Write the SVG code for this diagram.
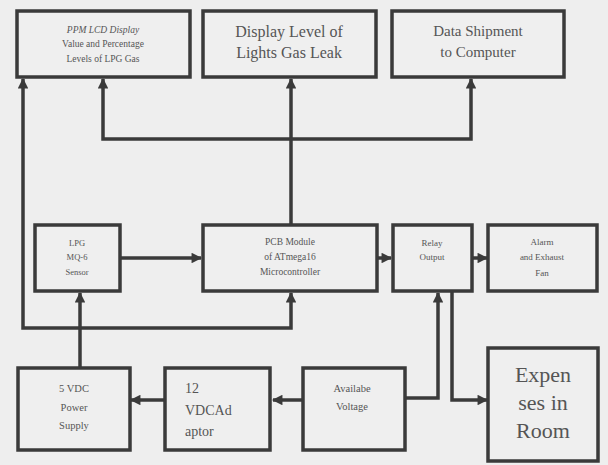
<svg xmlns="http://www.w3.org/2000/svg" width="608" height="465" viewBox="0 0 608 465">
<defs>
<style>
.box{fill:#efefef;stroke:#3a3a3a;stroke-width:3.5}
.ln{fill:none;stroke:#3a3a3a;stroke-width:3.5}
.t{fill:#555;text-anchor:middle;dominant-baseline:middle}
.l{text-anchor:start}
</style>
<marker id="ah" viewBox="0 0 10 10" refX="9" refY="5" markerWidth="3.2" markerHeight="3" orient="auto-start-reverse" markerUnits="strokeWidth">
<path d="M0,0 L10,5 L0,10 z" fill="#3a3a3a"/>
</marker>
</defs>
<rect width="608" height="465" fill="#eeeeee"/>
<g id="connectors">
<path class="ln" d="M23,79 L23,328 L291,328 L291,293" marker-start="url(#ah)" marker-end="url(#ah)"/>
<path class="ln" d="M80,367 L80,293" marker-end="url(#ah)"/>
<path class="ln" d="M291,224 L291,79" marker-end="url(#ah)"/>
<path class="ln" d="M103,79 L103,139 L471,139 L471,79" marker-start="url(#ah)" marker-end="url(#ah)"/>
<path class="ln" d="M120,258 L201,258" marker-end="url(#ah)"/>
<path class="ln" d="M377,258 L391,258" marker-end="url(#ah)"/>
<path class="ln" d="M472,258 L487,258" marker-end="url(#ah)"/>
<path class="ln" d="M405,398 L438,398 L438,293" marker-end="url(#ah)"/>
<path class="ln" d="M452,291 L452,400 L487,400" marker-end="url(#ah)"/>
<path class="ln" d="M303,400 L273,400" marker-end="url(#ah)"/>
<path class="ln" d="M165,400 L131,400" marker-end="url(#ah)"/>
</g>
<g font-family="Liberation Serif, Times New Roman, serif">
<g id="ppm">
<rect class="box" x="17" y="11" width="173" height="66"/>
<text class="t" x="103" y="31" font-size="9.5" font-style="italic">PPM LCD Display</text>
<text class="t" x="103" y="45" font-size="9.5">Value and Percentage</text>
<text class="t" x="103" y="60" font-size="9.5">Levels of LPG Gas</text>
</g>
<g id="display">
<rect class="box" x="203" y="11" width="173" height="66"/>
<text class="t" x="289" y="33" font-size="16">Display Level of</text>
<text class="t" x="289" y="54" font-size="16">Lights Gas Leak</text>
</g>
<g id="data">
<rect class="box" x="392" y="11" width="172" height="66"/>
<text class="t" x="478" y="33" font-size="15">Data Shipment</text>
<text class="t" x="478" y="54" font-size="15">to Computer</text>
</g>
<g id="lpg">
<rect class="box" x="35" y="225" width="85" height="66"/>
<text class="t" x="77" y="244" font-size="8.5">LPG</text>
<text class="t" x="77" y="258" font-size="8.5">MQ-6</text>
<text class="t" x="77" y="273" font-size="8.5">Sensor</text>
</g>
<g id="pcb">
<rect class="box" x="203" y="225" width="174" height="66"/>
<text class="t" x="290" y="243" font-size="9.5">PCB Module</text>
<text class="t" x="290" y="258" font-size="9.5">of ATmega16</text>
<text class="t" x="290" y="273" font-size="9.5">Microcontroller</text>
</g>
<g id="relay">
<rect class="box" x="393" y="225" width="79" height="66"/>
<text class="t" x="432" y="244" font-size="9">Relay</text>
<text class="t" x="432" y="258" font-size="9">Output</text>
</g>
<g id="alarm">
<rect class="box" x="488" y="225" width="109" height="66"/>
<text class="t" x="542" y="243" font-size="9">Alarm</text>
<text class="t" x="542" y="258" font-size="9">and Exhaust</text>
<text class="t" x="542" y="274" font-size="9">Fan</text>
</g>
<g id="psu">
<rect class="box" x="18" y="368" width="112" height="82"/>
<text class="t" x="74" y="390" font-size="10.5">5 VDC</text>
<text class="t" x="74" y="409" font-size="10.5">Power</text>
<text class="t" x="74" y="427" font-size="10.5">Supply</text>
</g>
<g id="adaptor">
<rect class="box" x="165" y="368" width="105" height="82"/>
<text class="t l" x="185" y="390" font-size="14">12</text>
<text class="t l" x="185" y="412" font-size="14">VDCAd</text>
<text class="t l" x="185" y="433" font-size="14">aptor</text>
</g>
<g id="voltage">
<rect class="box" x="303" y="368" width="102" height="82"/>
<text class="t" x="352" y="390" font-size="10.5">Availabe</text>
<text class="t" x="352" y="408" font-size="10.5">Voltage</text>
</g>
<g id="expenses">
<rect class="box" x="488" y="348" width="110" height="113"/>
<text class="t" x="543" y="377" font-size="22">Expen</text>
<text class="t" x="543" y="405" font-size="22">ses in</text>
<text class="t" x="543" y="433" font-size="22">Room</text>
</g>
</g>
</svg>
